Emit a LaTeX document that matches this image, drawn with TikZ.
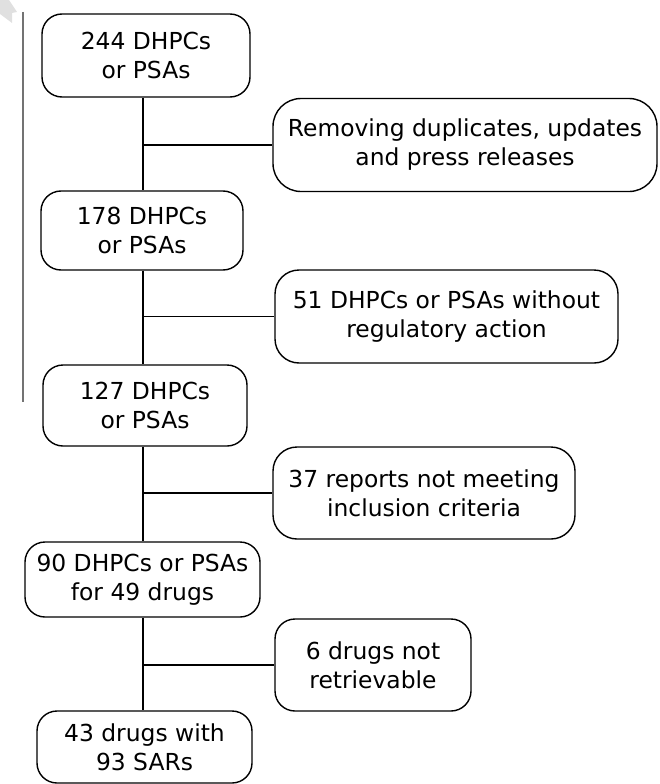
\documentclass[tikz,border=0pt]{standalone}
\usepackage{fontspec}
\setmainfont{DejaVu Sans}
\begin{document}
\begin{tikzpicture}[x=1pt,y=-1pt,
  box/.style={draw=black, line width=1.4pt, rounded corners=20pt, align=center,
    inner sep=0pt, font=\fontsize{23.4}{29}\selectfont},
  link/.style={draw=black, line width=1.4pt}]
\useasboundingbox (0,0) rectangle (659,784);
% faint watermark fragment and margin line
\fill[black!12] (0,0) -- (9,0) -- (17,12) -- (12,13) -- (12,23) -- (0,14) -- cycle;
\draw[black!55, line width=1.2pt] (23,12) -- (23,402);
\coordinate (spine) at (143,0);
% main column
\node[box, minimum width=208pt, minimum height=83pt] (b1) at (146,55.5) {244 DHPCs\\or PSAs};
\node[box, minimum width=202pt, minimum height=79pt] (b2) at (142,230.5) {178 DHPCs\\or PSAs};
\node[box, minimum width=204pt, minimum height=81pt] (b3) at (145,405.5) {127 DHPCs\\or PSAs};
\node[box, minimum width=235pt, minimum height=75pt] (b4) at (142.5,579.5) {90 DHPCs or PSAs\\for 49 drugs};
\node[box, minimum width=215pt, minimum height=72pt] (b5) at (144.5,747) {43 drugs with\\93 SARs};
% exclusion boxes
\node[box, rounded corners=28pt, minimum width=384pt, minimum height=93pt] (r1) at (465,145) {Removing duplicates, updates\\and press releases};
\node[box, rounded corners=24pt, minimum width=343pt, minimum height=93pt] (r2) at (446.5,316.5) {51 DHPCs or PSAs without\\regulatory action};
\node[box, rounded corners=24pt, minimum width=302pt, minimum height=92pt] (r3) at (424,493) {37 reports not meeting\\inclusion criteria};
\node[box, minimum width=196pt, minimum height=92pt] (r4) at (373,665) {6 drugs not\\retrievable};
% connectors
\draw[link] (b1.south -| spine) -- (b2.north -| spine);
\draw[link] (b2.south -| spine) -- (b3.north -| spine);
\draw[link] (b3.south -| spine) -- (b4.north -| spine);
\draw[link] (b4.south -| spine) -- (b5.north -| spine);
\draw[link] (r1.west -| spine) -- (r1.west);
\draw[link] (r2.west -| spine) -- (r2.west);
\draw[link] (r3.west -| spine) -- (r3.west);
\draw[link] (r4.west -| spine) -- (r4.west);
\end{tikzpicture}
\end{document}
